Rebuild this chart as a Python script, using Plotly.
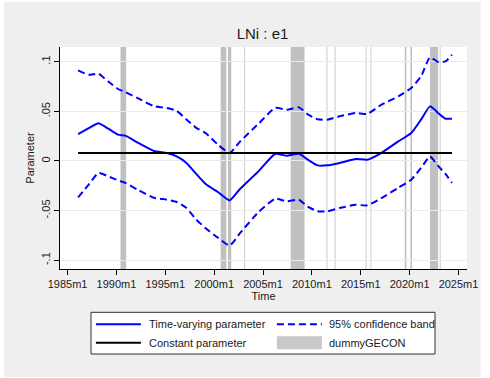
import plotly.graph_objects as go

# Monthly dates (Stata-style labels) at which the estimates are sampled
months = ["1986m2", "1987m3", "1988m3", "1989m3", "1990m3", "1990m12", "1992m3",
          "1993m11", "1995m3", "1996m3", "1997m3", "1998m3", "1999m3", "2000m6",
          "2001m8", "2002m9", "2004m8", "2006m4", "2007m6", "2008m9", "2009m8",
          "2010m8", "2011m8", "2012m11", "2014m7", "2015m9", "2017m2", "2018m11",
          "2020m3", "2021m3", "2022m2", "2022m12", "2023m9", "2024m5"]

tv_param = [0.0270, 0.0330, 0.0380, 0.0325, 0.0265, 0.0255, 0.0185, 0.0100, 0.0080,
            0.0046, -0.0020, -0.0130, -0.0235, -0.0315, -0.0397, -0.0280, -0.0100,
            0.0073, 0.0053, 0.0073, 0.0013, -0.0044, -0.0044, -0.0020, 0.0020,
            0.0013, 0.0080, 0.0197, 0.0282, 0.0416, 0.0550, 0.0483, 0.0426, 0.0426]

upper_band = [0.0912, 0.0868, 0.0879, 0.0800, 0.0725, 0.0694, 0.0634, 0.0553, 0.0533,
              0.0505, 0.0418, 0.0334, 0.0278, 0.0162, 0.0081, 0.0197, 0.0380, 0.0535,
              0.0516, 0.0540, 0.0470, 0.0420, 0.0416, 0.0450, 0.0483, 0.0473, 0.0565,
              0.0650, 0.0735, 0.0852, 0.1043, 0.0997, 0.1003, 0.1070]

lower_band = [-0.0366, -0.0238, -0.0120, -0.0155, -0.0195, -0.0221, -0.0289, -0.0370,
              -0.0390, -0.0413, -0.0473, -0.0590, -0.0680, -0.0775, -0.0852, -0.0725,
              -0.0510, -0.0380, -0.0406, -0.0390, -0.0460, -0.0507, -0.0507, -0.0473,
              -0.0442, -0.0447, -0.0375, -0.0270, -0.0188, -0.0070, 0.0046, -0.0050,
              -0.0130, -0.0221]

const_param = 0.008

# dummyGECON = 1 spells (first month, last month)
dummy_spells = [("1990m6", "1990m12"), ("2000m9", "2001m3"), ("2001m6", "2001m9"),
                ("2003m2", "2003m2"), ("2007m11", "2009m3"), ("2011m7", "2011m7"),
                ("2012m5", "2012m5"), ("2015m7", "2015m7"), ("2016m1", "2016m1"),
                ("2019m7", "2019m8"), ("2020m2", "2020m3"), ("2022m2", "2022m11"),
                ("2023m2", "2023m2")]

x_ticks = [1985, 1990, 1995, 2000, 2005, 2010, 2015, 2020, 2025]
x_ticktext = ["1985m1", "1990m1", "1995m1", "2000m1", "2005m1", "2010m1",
              "2015m1", "2020m1", "2025m1"]
y_ticks = [-0.1, -0.05, 0, 0.05, 0.1]
y_ticktext = ["-.1", "-.05", "0", ".05", ".1"]


def to_year(label):
    y, m = label.split("m")
    return int(y) + (int(m) - 1) / 12.0


t = [to_year(m) for m in months]

FONT = "Liberation Sans, Arial, sans-serif"
BLUE = "#0000ff"
GREY_BAR = "#c0c0c0"
BG = "#efefef"
TXT = "#1a1a1a"

W, H = 490, 378
ML, MR, MT, MB = 60, 14, 47, 109
PW, PH = W - ML - MR, H - MT - MB


def px(x):
    return (x - ML) / PW


def py(y):
    return (H - MB - y) / PH


DASH = "7px,4px"
fig = go.Figure()

fig.add_trace(go.Scatter(x=t, y=upper_band, mode="lines",
                         line=dict(color=BLUE, width=2, dash=DASH, shape="spline",
                                   smoothing=0.5),
                         showlegend=False, hoverinfo="skip"))
fig.add_trace(go.Scatter(x=t, y=lower_band, mode="lines",
                         line=dict(color=BLUE, width=2, dash=DASH, shape="spline",
                                   smoothing=0.5),
                         showlegend=False, hoverinfo="skip"))
fig.add_trace(go.Scatter(x=t, y=tv_param, mode="lines",
                         line=dict(color=BLUE, width=2, shape="spline", smoothing=0.5),
                         showlegend=False))
fig.add_trace(go.Scatter(x=[t[0], t[-1]], y=[const_param, const_param], mode="lines",
                         line=dict(color="black", width=2),
                         showlegend=False))

shapes = []
# figure background with a thin white border
shapes.append(dict(type="rect", xref="paper", yref="paper", layer="below",
                   x0=px(3), x1=px(490), y0=py(377), y1=py(2),
                   fillcolor=BG, line=dict(width=0)))
shapes.append(dict(type="rect", xref="paper", yref="paper", layer="below",
                   x0=0, x1=1, y0=0, y1=1, fillcolor="white", line=dict(width=0)))

# shaded dummy months
for a, b in dummy_spells:
    shapes.append(dict(type="rect", xref="x", yref="paper", layer="between",
                       x0=to_year(a), x1=to_year(b) + 1 / 12.0, y0=0, y1=1,
                       fillcolor=GREY_BAR, line=dict(width=0)))

# legend box
lx0, lx1, ly0, ly1 = 91.7, 443.3, 312.3, 354
shapes.append(dict(type="rect", xref="paper", yref="paper",
                   x0=px(lx0), x1=px(lx1), y0=py(ly1), y1=py(ly0),
                   fillcolor="white", line=dict(color="#303030", width=1)))
r1, r2 = 324.3, 342.7
c1a, c1b, c2a, c2b = 96.7, 142.7, 281.7, 327.7
shapes.append(dict(type="line", xref="paper", yref="paper",
                   x0=px(c1a), x1=px(c1b), y0=py(r1), y1=py(r1),
                   line=dict(color=BLUE, width=2)))
shapes.append(dict(type="line", xref="paper", yref="paper",
                   x0=px(c2a), x1=px(c2b), y0=py(r1), y1=py(r1),
                   line=dict(color=BLUE, width=2, dash=DASH)))
shapes.append(dict(type="line", xref="paper", yref="paper",
                   x0=px(c1a), x1=px(c1b), y0=py(r2), y1=py(r2),
                   line=dict(color="black", width=2)))
shapes.append(dict(type="rect", xref="paper", yref="paper",
                   x0=px(c2a), x1=px(c2b), y0=py(r2 + 6.5), y1=py(r2 - 6.5),
                   fillcolor="#c8c8c8", line=dict(width=0)))

legend_items = [("Time-varying parameter", 151, r1), ("95% confidence band", 335, r1),
                ("Constant parameter", 151, r2), ("dummyGECON", 335, r2)]
annotations = []
for txt, x, y in legend_items:
    annotations.append(dict(text=txt, xref="paper", yref="paper", x=px(x), y=py(y),
                            xanchor="left", yanchor="middle", showarrow=False,
                            xshift=-2, font=dict(family=FONT, size=11, color=TXT)))

fig.update_layout(
    width=W, height=H,
    margin=dict(l=ML, r=MR, t=MT, b=MB),
    paper_bgcolor="white", plot_bgcolor="white",
    font=dict(family=FONT, size=11, color=TXT),
    title=dict(text="LNi : e1", x=px(267), xref="paper", xanchor="center",
               y=1 - 34 / H, yref="container", yanchor="middle",
               font=dict(family=FONT, size=15, color=TXT)),
    shapes=shapes,
    annotations=annotations,
    showlegend=False,
)

fig.update_xaxes(range=[1984.23, 2025.87], tickvals=x_ticks, ticktext=x_ticktext,
                 showgrid=False, zeroline=False, showline=True, linecolor="black",
                 linewidth=1, ticks="outside", ticklen=5, tickcolor="black",
                 tickfont=dict(size=11),
                 title=dict(text="Time", standoff=1, font=dict(size=11)))
fig.update_yaxes(range=[-0.1088, 0.1148], tickvals=y_ticks, ticktext=y_ticktext,
                 tickangle=-90, showgrid=True, gridcolor="#eaeaea", gridwidth=1,
                 zeroline=False, showline=True, linecolor="black", linewidth=1,
                 ticks="outside", ticklen=5, tickcolor="black",
                 tickfont=dict(size=11),
                 title=dict(text="Parameter", standoff=2, font=dict(size=11)))

fig.write_html("out.html")
